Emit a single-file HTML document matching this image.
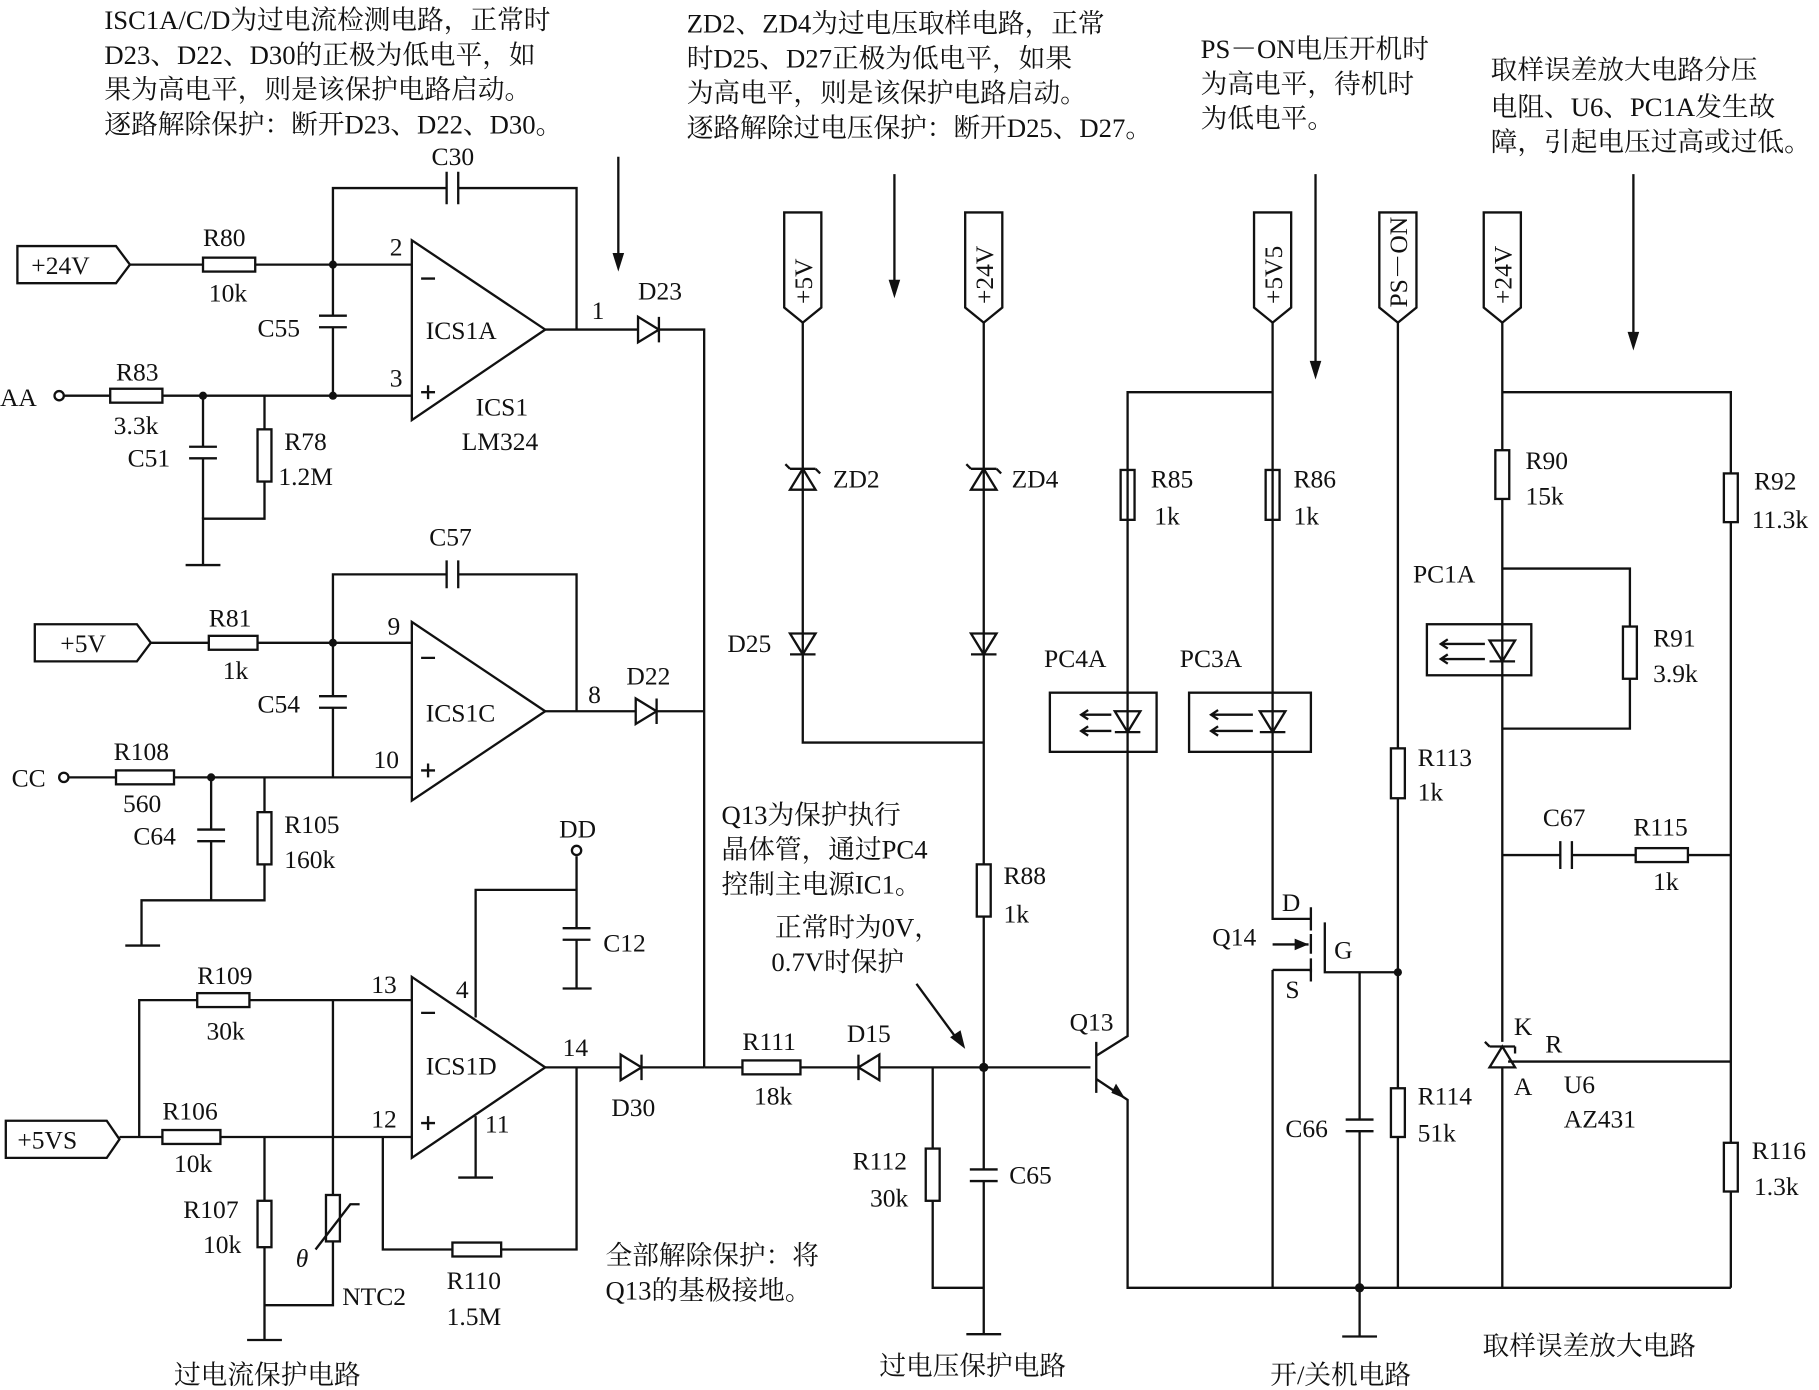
<!DOCTYPE html>
<html><head><meta charset="utf-8"><style>
html,body{margin:0;padding:0;background:#fff;}
svg{display:block;}
text{font-family:"Liberation Serif","Noto Serif CJK SC","Noto Sans CJK SC",serif;fill:#111;}
.l{font-size:22px;}
.c{font-size:23px;font-family:"Liberation Serif","Noto Serif CJK SC","Noto Sans CJK SC",serif;}
</style></head><body>
<svg width="1819" height="1390" viewBox="0 0 1568 1198" xmlns="http://www.w3.org/2000/svg">
<g stroke="#111" stroke-width="2" fill="none">
<!-- annotation arrows -->
<line x1="533" y1="135" x2="533" y2="225"/>
<line x1="771" y1="150" x2="771" y2="248"/>
<line x1="1134" y1="150" x2="1134" y2="318"/>
<line x1="1408" y1="150" x2="1408" y2="293"/>
<line x1="790" y1="848" x2="826" y2="897"/>

<!-- ICS1A -->
<path d="M15,212 H100 L112,228 L100,244 H15 Z"/>
<path d="M112,228 H175 M220,228 H355"/>
<rect x="175" y="222" width="45" height="12"/>
<path d="M287,228 V162 H385 M395,162 H497 V284"/>
<path d="M385,148 V176 M395,148 V176"/>
<path d="M355,207 V362 L470,284 Z"/>
<path d="M470,284 H550 M568,284 H607 V920"/>
<path d="M550,273 V295 L568,284 Z M568,273 V295"/>
<path d="M287,228 V272 M287,282 V341 M275,272 H299 M275,282 H299"/>
<circle cx="51" cy="341" r="4"/>
<path d="M55,341 H95 M140,341 H355"/>
<rect x="95" y="335" width="45" height="12"/>
<path d="M175,341 V385 M175,395 V447 M163,385 H187 M163,395 H187"/>
<path d="M228,341 V370 M228,415 V447 H175 V487 M160,487 H190"/>
<rect x="222" y="370" width="12" height="45"/>
<path d="M363,240 H375 M363,338 H375 M369,332 V344"/>

<!-- ICS1C -->
<path d="M30,538 H118 L130,554 L118,570 H30 Z"/>
<path d="M130,554 H180 M222,554 H355"/>
<rect x="180" y="548" width="42" height="12"/>
<path d="M287,554 V495 H385 M395,495 H497 V613"/>
<path d="M385,483 V507 M395,483 V507"/>
<path d="M355,536 V690 L470,613 Z"/>
<path d="M470,613 H548 M566,613 H607"/>
<path d="M548,602 V624 L566,613 Z M566,602 V624"/>
<path d="M287,554 V600 M287,610 V670 M275,600 H299 M275,610 H299"/>
<circle cx="55" cy="670" r="4"/>
<path d="M59,670 H100 M150,670 H355"/>
<rect x="100" y="664" width="50" height="12"/>
<path d="M182,670 V715 M182,725 V776 M170,715 H194 M170,725 H194"/>
<path d="M228,670 V700 M228,745 V776 H122 V815 M108,815 H138"/>
<rect x="222" y="700" width="12" height="45"/>
<path d="M363,567 H375 M363,664 H375 M369,658 V670"/>

<!-- ICS1D -->
<path d="M355,842 V998 L470,920 Z"/>
<path d="M410,877 V767 H497 V738 M497,767 V800 M497,810 V852 M485,800 H509 M485,810 H509 M485,852 H510"/>
<circle cx="497" cy="733" r="4"/>
<path d="M410,962 V1015 M395,1015 H425"/>
<path d="M470,920 H535 M553,920 H607"/>
<path d="M535,909 V931 L553,920 Z M553,909 V931"/>
<path d="M497,920 V1077 H432 M390,1077 H330 V980"/>
<rect x="390" y="1071" width="42" height="12"/>
<path d="M5,966 H92 L103,982 L92,998 H5 Z"/>
<path d="M103,980 H140 M190,980 H355"/>
<rect x="140" y="974" width="50" height="12"/>
<path d="M120,980 V862 H170 M215,862 H355"/>
<rect x="170" y="856" width="45" height="12"/>
<path d="M287,862 V1030 M287,1070 V1125 H228 M228,980 V1035 M228,1075 V1155 M213,1155 H243"/>
<rect x="222" y="1035" width="12" height="40"/>
<rect x="281" y="1030" width="12" height="40"/>
<path d="M272,1077 L302,1038 H310"/>
<path d="M363,873 H375 M363,968 H375 M369,962 V974"/>

<!-- main bus -->
<path d="M607,920 H640 M690,920 H740 M758,920 H940"/>
<rect x="640" y="914" width="50" height="12"/>
<path d="M758,909 V931 L740,920 Z M740,909 V931"/>
<path d="M804,920 V990 M804,1035 V1110 H848"/>
<rect x="798" y="990" width="12" height="45"/>
<path d="M848,920 V1008 M848,1018 V1150 M836,1008 H860 M836,1018 H860 M833,1150 H863"/>

<!-- +5V / +24V zener branch -->
<path d="M676,183 H708 V265 L692,278 L676,265 Z"/>
<path d="M832,183 H864 V265 L848,278 L832,265 Z"/>
<path d="M692,278 V640 H848"/>
<path d="M848,278 V745 M848,790 V920"/>
<rect x="842" y="745" width="12" height="45"/>
<path d="M681,422 H703 L692,404 Z M681,404 H703 M681,404 L677,400 M703,404 L707,408"/>
<path d="M837,422 H859 L848,404 Z M837,404 H859 M837,404 L833,400 M859,404 L863,408"/>
<path d="M681,546 H703 L692,564 Z M681,564 H703"/>
<path d="M837,546 H859 L848,564 Z M837,564 H859"/>

<!-- Q13 -->
<path d="M945,898 V942 M945,910 L972,893 V338 H1097 M945,930 L972,948 V1110 H1492"/>
<rect x="966" y="405" width="12" height="43"/>
<path d="M961,613 H983 L972,631 Z M961,631 H983"/>
<rect x="905" y="597" width="92" height="51"/>
<path d="M958,616 H932 M958,630 H932 M938,612 L932,616 L938,620 M938,626 L932,630 L938,634"/>

<!-- +5V5 -->
<path d="M1081,183 H1113 V265 L1097,278 L1081,265 Z"/>
<path d="M1097,278 V792 H1130"/>
<rect x="1091" y="405" width="12" height="43"/>
<path d="M1086,613 H1108 L1097,631 Z M1086,631 H1108"/>
<rect x="1025" y="597" width="105" height="51"/>
<path d="M1080,616 H1044 M1080,630 H1044 M1050,612 L1044,616 L1050,620 M1050,626 L1044,630 L1050,634"/>
<path d="M1130,782 V802 M1130,805 V822 M1130,826 V846 M1142,795 V838 H1205"/>
<path d="M1097,814 H1128 M1097,836 H1130 V838 M1097,836 V1110"/>
<path d="M1172,838 V965 M1172,975 V1152 M1160,965 H1184 M1160,975 H1184 M1157,1152 H1187"/>

<!-- PS-ON -->
<path d="M1189,183 H1221 V265 L1205,278 L1189,265 Z"/>
<path d="M1205,278 V645 M1205,688 V938 M1205,980 V1110"/>
<rect x="1199" y="645" width="12" height="43"/>
<rect x="1199" y="938" width="12" height="42"/>

<!-- +24V right -->
<path d="M1279,183 H1311 V265 L1295,278 L1279,265 Z"/>
<path d="M1295,278 V388 M1295,430 V898 M1295,920 V1110 M1295,338 H1492 V408 M1492,450 V985 M1492,1027 V1110"/>
<rect x="1289" y="388" width="12" height="42"/>
<rect x="1486" y="408" width="12" height="42"/>
<rect x="1486" y="985" width="12" height="42"/>
<path d="M1284,552 H1306 L1295,570 Z M1284,570 H1306"/>
<rect x="1230" y="538" width="90" height="44"/>
<path d="M1280,555 H1242 M1280,568 H1242 M1248,551 L1242,555 L1248,559 M1248,564 L1242,568 L1248,572"/>
<path d="M1295,490 H1405 V540 M1405,585 V628 H1295"/>
<rect x="1399" y="540" width="12" height="45"/>
<path d="M1295,737 H1345 M1355,737 H1410 M1455,737 H1492 M1345,725 V749 M1355,725 V749"/>
<rect x="1410" y="731" width="45" height="12"/>
<path d="M1284,920 H1306 L1295,902 Z M1284,902 H1306 M1284,902 L1280,898 M1306,902 V908"/>
<path d="M1300,915 H1492"/>
</g>
<g fill="#111">
<polygon points="528,218 538,218 533,234"/>
<polygon points="766,241 776,241 771,257"/>
<polygon points="1129,311 1139,311 1134,327"/>
<polygon points="1403,286 1413,286 1408,302"/>
<polygon points="819,894 828,888 832,904"/>
<polygon points="958,942 970,947 962,934"/>
<polygon points="1116,809 1128,814 1116,819"/>
<circle cx="287" cy="228" r="3.5"/><circle cx="287" cy="341" r="3.5"/><circle cx="175" cy="341" r="3.5"/>
<circle cx="287" cy="554" r="3.5"/><circle cx="182" cy="670" r="3.5"/>
<circle cx="848" cy="920" r="4"/><circle cx="1205" cy="838" r="3.5"/><circle cx="1172" cy="1110" r="4"/>
</g>
<g class="c">
<text x="90" y="25">ISC1A/C/D为过电流检测电路，正常时</text>
<text x="90" y="55">D23、D22、D30的正极为低电平，如</text>
<text x="90" y="85">果为高电平，则是该保护电路启动。</text>
<text x="90" y="115">逐路解除保护：断开D23、D22、D30。</text>
<text x="592" y="28">ZD2、ZD4为过电压取样电路，正常</text>
<text x="592" y="58">时D25、D27正极为低电平，如果</text>
<text x="592" y="88">为高电平，则是该保护电路启动。</text>
<text x="592" y="118">逐路解除过电压保护：断开D25、D27。</text>
<text x="1035" y="50">PS－ON电压开机时</text>
<text x="1035" y="80">为高电平，待机时</text>
<text x="1035" y="110">为低电平。</text>
<text x="1285" y="68">取样误差放大电路分压</text>
<text x="1285" y="100">电阻、U6、PC1A发生故</text>
<text x="1285" y="130">障，引起电压过高或过低。</text>
<text x="622" y="710">Q13为保护执行</text>
<text x="622" y="740">晶体管，通过PC4</text>
<text x="622" y="770">控制主电源IC1。</text>
<text x="668" y="807">正常时为0V，</text>
<text x="665" y="837">0.7V时保护</text>
<text x="522" y="1090">全部解除保护：将</text>
<text x="522" y="1120">Q13的基极接地。</text>
<text x="150" y="1193">过电流保护电路</text>
<text x="758" y="1185">过电压保护电路</text>
<text x="1095" y="1193">开/关机电路</text>
<text x="1278" y="1168">取样误差放大电路</text>
</g>
<g class="l">
<text x="27" y="236">+24V</text><text x="175" y="212">R80</text><text x="180" y="260">10k</text><text x="222" y="290">C55</text>
<text x="372" y="142">C30</text><text x="336" y="220">2</text><text x="336" y="333">3</text>
<text x="0" y="350">AA</text><text x="100" y="328">R83</text><text x="98" y="374">3.3k</text><text x="110" y="402">C51</text>
<text x="245" y="388">R78</text><text x="240" y="418">1.2M</text><text x="367" y="292">ICS1A</text><text x="410" y="358">ICS1</text><text x="398" y="388">LM324</text>
<text x="510" y="275">1</text><text x="550" y="258">D23</text>
<text x="52" y="562">+5V</text><text x="180" y="540">R81</text><text x="192" y="585">1k</text><text x="222" y="614">C54</text>
<text x="370" y="470">C57</text><text x="334" y="547">9</text><text x="322" y="662">10</text>
<text x="10" y="678">CC</text><text x="98" y="655">R108</text><text x="106" y="700">560</text><text x="115" y="728">C64</text>
<text x="245" y="718">R105</text><text x="245" y="748">160k</text><text x="367" y="622">ICS1C</text><text x="507" y="606">8</text><text x="540" y="590">D22</text>
<text x="482" y="722">DD</text><text x="520" y="820">C12</text><text x="393" y="860">4</text><text x="320" y="856">13</text><text x="320" y="972">12</text><text x="418" y="976">11</text>
<text x="367" y="926">ICS1D</text><text x="485" y="910">14</text><text x="527" y="962">D30</text>
<text x="15" y="990">+5VS</text><text x="170" y="848">R109</text><text x="178" y="896">30k</text><text x="140" y="965">R106</text><text x="150" y="1010">10k</text>
<text x="158" y="1050">R107</text><text x="175" y="1080">10k</text><text x="255" y="1092" font-style="italic">θ</text><text x="295" y="1125">NTC2</text>
<text x="385" y="1111">R110</text><text x="385" y="1142">1.5M</text>
<text x="640" y="905">R111</text><text x="650" y="952">18k</text><text x="730" y="898">D15</text>
<text x="735" y="1008">R112</text><text x="750" y="1040">30k</text><text x="870" y="1020">C65</text>
<text x="718" y="420">ZD2</text><text x="872" y="420">ZD4</text><text x="627" y="562">D25</text><text x="865" y="762">R88</text><text x="865" y="795">1k</text>
<text x="922" y="888">Q13</text><text x="992" y="420">R85</text><text x="995" y="452">1k</text><text x="900" y="575">PC4A</text>
<text x="1115" y="420">R86</text><text x="1115" y="452">1k</text><text x="1017" y="575">PC3A</text>
<text x="1105" y="785">D</text><text x="1045" y="815">Q14</text><text x="1150" y="826">G</text><text x="1108" y="860">S</text>
<text x="1108" y="980">C66</text><text x="1222" y="660">R113</text><text x="1222" y="690">1k</text><text x="1222" y="952">R114</text><text x="1222" y="984">51k</text>
<text x="1315" y="404">R90</text><text x="1315" y="435">15k</text><text x="1512" y="422">R92</text><text x="1510" y="455">11.3k</text>
<text x="1218" y="502">PC1A</text><text x="1425" y="557">R91</text><text x="1425" y="588">3.9k</text>
<text x="1330" y="712">C67</text><text x="1408" y="720">R115</text><text x="1425" y="767">1k</text>
<text x="1305" y="892">K</text><text x="1332" y="907">R</text><text x="1305" y="944">A</text><text x="1348" y="942">U6</text><text x="1348" y="972">AZ431</text>
<text x="1510" y="999">R116</text><text x="1512" y="1030">1.3k</text>
</g>
<g class="l">
<text transform="translate(700,262) rotate(-90)">+5V</text>
<text transform="translate(856,262) rotate(-90)">+24V</text>
<text transform="translate(1105,262) rotate(-90)">+5V5</text>
<text transform="translate(1213,265) rotate(-90)">PS－ON</text>
<text transform="translate(1303,262) rotate(-90)">+24V</text>
</g>
</svg>
</body></html>
